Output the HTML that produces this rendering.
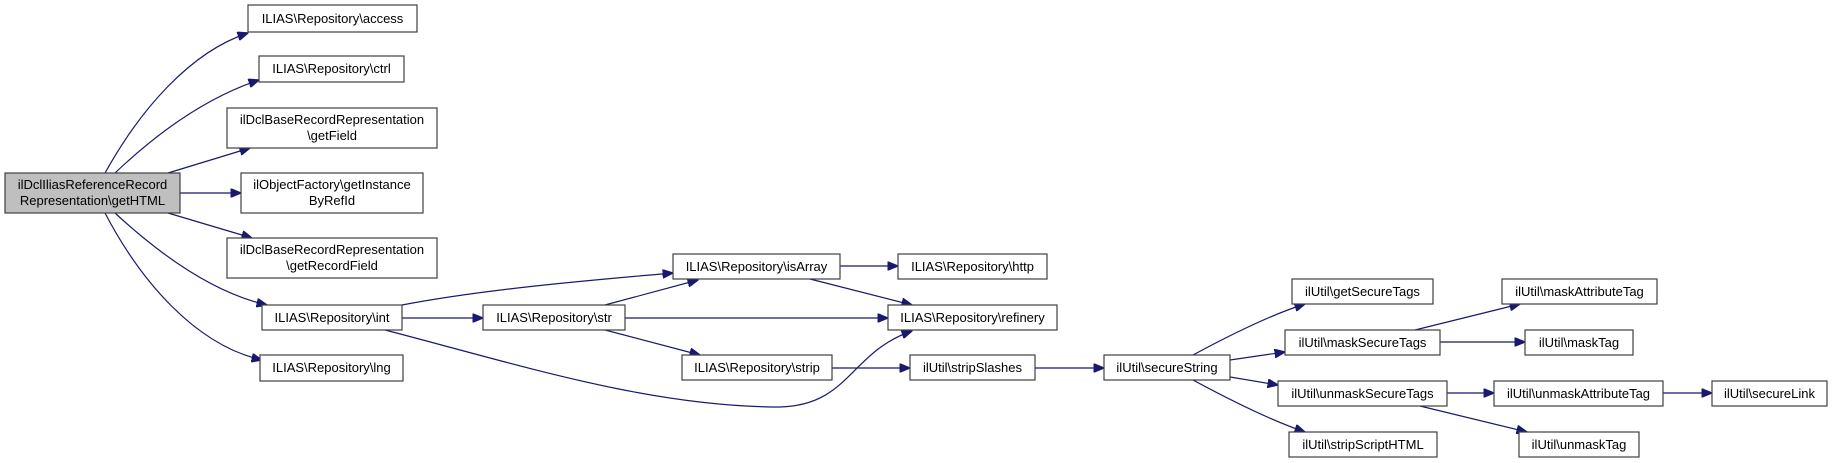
<!DOCTYPE html>
<html><head><meta charset="utf-8"><style>
html,body{margin:0;padding:0;background:#fff}
svg{display:block}
text{font-family:"Liberation Sans",sans-serif;font-size:13px;fill:#000}
.b{fill:#fff;stroke:#404040;stroke-width:1.2}
.e{fill:none;stroke:#191970;stroke-width:1.2}
</style></head><body>
<svg width="1832" height="463" viewBox="0 0 1832 463" xmlns="http://www.w3.org/2000/svg">
<defs><marker id="a" markerWidth="11" markerHeight="9" refX="10.5" refY="4.5" orient="auto" markerUnits="userSpaceOnUse"><path d="M0,0 L11,4.5 L0,9 Z" fill="#191970" stroke="#191970"/></marker></defs>
<g marker-end="url(#a)" class="e">
<path class="e" d="M105,173 C140,110 190,52 248,33"/>
<path class="e" d="M115,173 C155,135 205,98 259,80"/>
<path class="e" d="M168,173 L250,148"/>
<path class="e" d="M180,193 L241,193"/>
<path class="e" d="M168,213 L252,238"/>
<path class="e" d="M115,213 C155,250 210,292 267,305"/>
<path class="e" d="M105,213 C140,280 195,345 262,360"/>
<path class="e" d="M402,305 C480,290 580,281 673,273"/>
<path class="e" d="M402,318 L483,318"/>
<path class="e" d="M385,330 C520,365 650,407 780,407 C850,405 850,352 912,331"/>
<path class="e" d="M605,305 L698,280"/>
<path class="e" d="M625,318 L888,318"/>
<path class="e" d="M605,330 L700,355"/>
<path class="e" d="M840,266 L898,266"/>
<path class="e" d="M810,279 L912,305"/>
<path class="e" d="M832,368 L910,368"/>
<path class="e" d="M1035,368 L1104,368"/>
<path class="e" d="M1193,355 C1230,335 1270,315 1305,304"/>
<path class="e" d="M1230,360 L1285,352"/>
<path class="e" d="M1230,377 L1278,385"/>
<path class="e" d="M1193,380 C1230,400 1270,420 1305,432"/>
<path class="e" d="M1415,330 L1520,304"/>
<path class="e" d="M1440,342 L1525,342"/>
<path class="e" d="M1447,393 L1494,393"/>
<path class="e" d="M1420,406 L1527,432"/>
<path class="e" d="M1663,393 L1712,393"/>
</g>
<rect x="5" y="173" width="175" height="40" fill="#bfbfbf" stroke="#404040" stroke-width="1.2"/>
<text x="92.5" y="189" text-anchor="middle">ilDclIliasReferenceRecord</text>
<text x="92.5" y="205" text-anchor="middle">Representation\getHTML</text>
<rect class="b" x="248" y="5" width="169" height="27"/><text x="332.5" y="23" text-anchor="middle">ILIAS\Repository\access</text>
<rect class="b" x="259" y="56" width="145" height="26"/><text x="331.5" y="73" text-anchor="middle">ILIAS\Repository\ctrl</text>
<rect class="b" x="227" y="108" width="210" height="40"/><text x="332" y="124" text-anchor="middle">ilDclBaseRecordRepresentation</text><text x="332" y="140" text-anchor="middle">\getField</text>
<rect class="b" x="241" y="173" width="182" height="40"/><text x="332" y="189" text-anchor="middle">ilObjectFactory\getInstance</text><text x="332" y="205" text-anchor="middle">ByRefId</text>
<rect class="b" x="227" y="238" width="210" height="40"/><text x="332" y="254" text-anchor="middle">ilDclBaseRecordRepresentation</text><text x="332" y="270" text-anchor="middle">\getRecordField</text>
<rect class="b" x="262" y="305" width="140" height="25"/><text x="332" y="322" text-anchor="middle">ILIAS\Repository\int</text>
<rect class="b" x="260" y="355" width="143" height="26"/><text x="331.5" y="372" text-anchor="middle">ILIAS\Repository\lng</text>
<rect class="b" x="483" y="305" width="142" height="25"/><text x="554" y="322" text-anchor="middle">ILIAS\Repository\str</text>
<rect class="b" x="673" y="254" width="167" height="25"/><text x="756.5" y="271" text-anchor="middle">ILIAS\Repository\isArray</text>
<rect class="b" x="682" y="355" width="150" height="25"/><text x="757" y="372" text-anchor="middle">ILIAS\Repository\strip</text>
<rect class="b" x="898" y="254" width="149" height="25"/><text x="972.5" y="271" text-anchor="middle">ILIAS\Repository\http</text>
<rect class="b" x="888" y="305" width="169" height="25"/><text x="972.5" y="322" text-anchor="middle">ILIAS\Repository\refinery</text>
<rect class="b" x="910" y="355" width="125" height="25"/><text x="972.5" y="372" text-anchor="middle">ilUtil\stripSlashes</text>
<rect class="b" x="1104" y="355" width="126" height="25"/><text x="1167" y="372" text-anchor="middle">ilUtil\secureString</text>
<rect class="b" x="1292" y="279" width="141" height="25"/><text x="1362.5" y="296" text-anchor="middle">ilUtil\getSecureTags</text>
<rect class="b" x="1285" y="330" width="155" height="25"/><text x="1362.5" y="347" text-anchor="middle">ilUtil\maskSecureTags</text>
<rect class="b" x="1278" y="381" width="169" height="25"/><text x="1362.5" y="398" text-anchor="middle">ilUtil\unmaskSecureTags</text>
<rect class="b" x="1289" y="432" width="148" height="25"/><text x="1363" y="449" text-anchor="middle">ilUtil\stripScriptHTML</text>
<rect class="b" x="1502" y="279" width="155" height="25"/><text x="1579.5" y="296" text-anchor="middle">ilUtil\maskAttributeTag</text>
<rect class="b" x="1525" y="330" width="108" height="25"/><text x="1579" y="347" text-anchor="middle">ilUtil\maskTag</text>
<rect class="b" x="1494" y="381" width="169" height="25"/><text x="1578.5" y="398" text-anchor="middle">ilUtil\unmaskAttributeTag</text>
<rect class="b" x="1519" y="432" width="120" height="25"/><text x="1579" y="449" text-anchor="middle">ilUtil\unmaskTag</text>
<rect class="b" x="1712" y="381" width="115" height="25"/><text x="1769.5" y="398" text-anchor="middle">ilUtil\secureLink</text>
</svg>
</body></html>
